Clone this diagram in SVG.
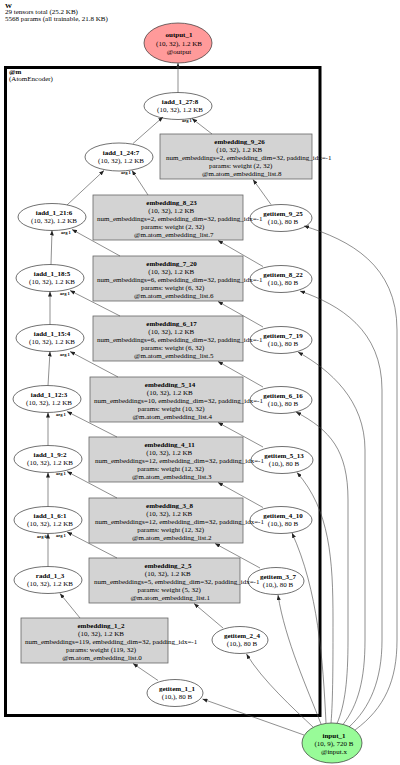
<svg xmlns="http://www.w3.org/2000/svg" width="400" height="765" viewBox="0 0 400 765">
<style>
text { font-family: "Liberation Serif", "Times New Roman", serif; font-size: 7px; fill: #000; }
.b { font-weight: bold; }
.m { text-anchor: middle; }
.box { fill: #d3d3d3; stroke: #666; stroke-width: 0.8; }
.ell { fill: #fff; stroke: #333; stroke-width: 0.7; }
.out { fill: #ff9a9a; stroke: #333; stroke-width: 0.7; }
.in { fill: #98fb98; stroke: #333; stroke-width: 0.7; }
.e { fill: none; stroke: #444; stroke-width: 0.6; marker-end: url(#ah); }
.lab { font-size: 4.5px; font-weight: bold; }
.cl { fill: #fff; stroke: #000; stroke-width: 3; }
</style>
<defs>
<marker id="ah" markerUnits="userSpaceOnUse" markerWidth="5" markerHeight="4" refX="5" refY="2" orient="auto">
<path d="M0,0 L5,2 L0,4 z" fill="#222"/>
</marker>
</defs>
<rect width="400" height="765" fill="#fff"/>
<g id="title">
<text x="5" y="7.5" class="b">W</text>
<text x="5" y="14">29 tensors total (25.2 KB)</text>
<text x="5" y="20.5">5568 params (all trainable, 21.8 KB)</text>
</g>
<g id="cluster_m">
<rect class="cl" x="5.5" y="67.5" width="314.5" height="648"/>
<text x="9" y="74" class="b">@m</text>
<text x="9" y="80.5">(AtomEncoder)</text>
</g>
<g id="output_1">
<ellipse class="out" cx="178" cy="43" rx="34" ry="20"/>
<text x="179" y="37" class="b m">output_1</text>
<text x="179" y="45.5" class="m">(10, 32), 1.2 KB</text>
<text x="179" y="54" class="m">@output</text>
</g>
<g id="iadd_1_27_8">
<ellipse class="ell" cx="178" cy="106" rx="34" ry="13.5"/>
<text x="180" y="104" class="b m">iadd_1_27:8</text>
<text x="180" y="112" class="m">(10, 32), 1.2 KB</text>
</g>
<g id="iadd_1_24_7">
<ellipse class="ell" cx="119" cy="157" rx="34" ry="14"/>
<text x="121" y="155" class="b m">iadd_1_24:7</text>
<text x="121" y="163" class="m">(10, 32), 1.2 KB</text>
</g>
<g id="iadd_1_21_6">
<ellipse class="ell" cx="52" cy="217" rx="34" ry="13.5"/>
<text x="54" y="215" class="b m">iadd_1_21:6</text>
<text x="54" y="223" class="m">(10, 32), 1.2 KB</text>
</g>
<g id="iadd_1_18_5">
<ellipse class="ell" cx="50" cy="278" rx="34" ry="13.5"/>
<text x="52" y="276" class="b m">iadd_1_18:5</text>
<text x="52" y="284" class="m">(10, 32), 1.2 KB</text>
</g>
<g id="iadd_1_15_4">
<ellipse class="ell" cx="50" cy="338" rx="34" ry="13.5"/>
<text x="52" y="336" class="b m">iadd_1_15:4</text>
<text x="52" y="344" class="m">(10, 32), 1.2 KB</text>
</g>
<g id="iadd_1_12_3">
<ellipse class="ell" cx="47" cy="399" rx="34" ry="13.5"/>
<text x="49" y="397" class="b m">iadd_1_12:3</text>
<text x="49" y="405" class="m">(10, 32), 1.2 KB</text>
</g>
<g id="iadd_1_9_2">
<ellipse class="ell" cx="48" cy="459" rx="34" ry="13.5"/>
<text x="50" y="457" class="b m">iadd_1_9:2</text>
<text x="50" y="465" class="m">(10, 32), 1.2 KB</text>
</g>
<g id="iadd_1_6_1">
<ellipse class="ell" cx="48" cy="520" rx="34" ry="13.5"/>
<text x="50" y="518" class="b m">iadd_1_6:1</text>
<text x="50" y="526" class="m">(10, 32), 1.2 KB</text>
</g>
<g id="radd_1_3">
<ellipse class="ell" cx="48" cy="580" rx="34" ry="13.5"/>
<text x="50" y="578" class="b m">radd_1_3</text>
<text x="50" y="586" class="m">(10, 32), 1.2 KB</text>
</g>
<g id="getitem_9_25">
<ellipse class="ell" cx="281" cy="218" rx="31" ry="13.5"/>
<text x="283" y="216" class="b m">getitem_9_25</text>
<text x="283" y="224" class="m">(10,), 80 B</text>
</g>
<g id="getitem_8_22">
<ellipse class="ell" cx="281" cy="279" rx="31" ry="13.5"/>
<text x="283" y="277" class="b m">getitem_8_22</text>
<text x="283" y="285" class="m">(10,), 80 B</text>
</g>
<g id="getitem_7_19">
<ellipse class="ell" cx="281" cy="340" rx="31" ry="13.5"/>
<text x="283" y="338" class="b m">getitem_7_19</text>
<text x="283" y="346" class="m">(10,), 80 B</text>
</g>
<g id="getitem_6_16">
<ellipse class="ell" cx="281" cy="400" rx="31" ry="13.5"/>
<text x="283" y="398" class="b m">getitem_6_16</text>
<text x="283" y="406" class="m">(10,), 80 B</text>
</g>
<g id="getitem_5_13">
<ellipse class="ell" cx="282" cy="460" rx="31" ry="13.5"/>
<text x="284" y="458" class="b m">getitem_5_13</text>
<text x="284" y="466" class="m">(10,), 80 B</text>
</g>
<g id="getitem_4_10">
<ellipse class="ell" cx="281" cy="520" rx="31" ry="13.5"/>
<text x="283" y="518" class="b m">getitem_4_10</text>
<text x="283" y="526" class="m">(10,), 80 B</text>
</g>
<g id="getitem_3_7">
<ellipse class="ell" cx="276" cy="581" rx="28" ry="13.5"/>
<text x="278" y="579" class="b m">getitem_3_7</text>
<text x="278" y="587" class="m">(10,), 80 B</text>
</g>
<g id="getitem_2_4">
<ellipse class="ell" cx="240" cy="640" rx="28" ry="13.5"/>
<text x="242" y="638" class="b m">getitem_2_4</text>
<text x="242" y="646" class="m">(10,), 80 B</text>
</g>
<g id="getitem_1_1">
<ellipse class="ell" cx="175" cy="693" rx="28" ry="13.5"/>
<text x="177" y="691" class="b m">getitem_1_1</text>
<text x="177" y="699" class="m">(10,), 80 B</text>
</g>
<g id="embedding_9_26">
<rect class="box" x="160" y="134" width="152" height="45"/>
<text x="239.6" y="143.5" class="b m">embedding_9_26</text>
<text x="239.3" y="151.5" class="m">(10, 32), 1.2 KB</text>
<text x="166" y="159.5">num_embeddings=2, embedding_dim=32, padding_idx=-1</text>
<text x="240.6" y="167.5" class="m">params: weight (2, 32)</text>
<text x="241.8" y="175.5" class="m">@m.atom_embedding_list.8</text>
</g>
<g id="embedding_8_23">
<rect class="box" x="93" y="195" width="150" height="45"/>
<text x="171.6" y="204.5" class="b m">embedding_8_23</text>
<text x="171.3" y="212.5" class="m">(10, 32), 1.2 KB</text>
<text x="97" y="220.5">num_embeddings=2, embedding_dim=32, padding_idx=-1</text>
<text x="172.6" y="228.5" class="m">params: weight (2, 32)</text>
<text x="173.8" y="236.5" class="m">@m.atom_embedding_list.7</text>
</g>
<g id="embedding_7_20">
<rect class="box" x="93" y="256" width="150" height="45"/>
<text x="171.6" y="265.5" class="b m">embedding_7_20</text>
<text x="171.3" y="273.5" class="m">(10, 32), 1.2 KB</text>
<text x="97" y="281.5">num_embeddings=6, embedding_dim=32, padding_idx=-1</text>
<text x="172.6" y="289.5" class="m">params: weight (6, 32)</text>
<text x="173.8" y="297.5" class="m">@m.atom_embedding_list.6</text>
</g>
<g id="embedding_6_17">
<rect class="box" x="93" y="316" width="150" height="45"/>
<text x="171.6" y="325.5" class="b m">embedding_6_17</text>
<text x="171.3" y="333.5" class="m">(10, 32), 1.2 KB</text>
<text x="97" y="341.5">num_embeddings=6, embedding_dim=32, padding_idx=-1</text>
<text x="172.6" y="349.5" class="m">params: weight (6, 32)</text>
<text x="173.8" y="357.5" class="m">@m.atom_embedding_list.5</text>
</g>
<g id="embedding_5_14">
<rect class="box" x="90" y="377" width="153" height="45"/>
<text x="170.1" y="386.5" class="b m">embedding_5_14</text>
<text x="169.8" y="394.5" class="m">(10, 32), 1.2 KB</text>
<text x="94" y="402.5">num_embeddings=10, embedding_dim=32, padding_idx=-1</text>
<text x="171.1" y="410.5" class="m">params: weight (10, 32)</text>
<text x="172.3" y="418.5" class="m">@m.atom_embedding_list.4</text>
</g>
<g id="embedding_4_11">
<rect class="box" x="89" y="437" width="154" height="45"/>
<text x="169.6" y="446.5" class="b m">embedding_4_11</text>
<text x="169.3" y="454.5" class="m">(10, 32), 1.2 KB</text>
<text x="95" y="462.5">num_embeddings=12, embedding_dim=32, padding_idx=-1</text>
<text x="170.6" y="470.5" class="m">params: weight (12, 32)</text>
<text x="171.8" y="478.5" class="m">@m.atom_embedding_list.3</text>
</g>
<g id="embedding_3_8">
<rect class="box" x="89" y="498" width="154" height="45"/>
<text x="169.6" y="507.5" class="b m">embedding_3_8</text>
<text x="169.3" y="515.5" class="m">(10, 32), 1.2 KB</text>
<text x="95" y="523.5">num_embeddings=12, embedding_dim=32, padding_idx=-1</text>
<text x="170.6" y="531.5" class="m">params: weight (12, 32)</text>
<text x="171.8" y="539.5" class="m">@m.atom_embedding_list.2</text>
</g>
<g id="embedding_2_5">
<rect class="box" x="89" y="558" width="151" height="45"/>
<text x="168.1" y="567.5" class="b m">embedding_2_5</text>
<text x="167.8" y="575.5" class="m">(10, 32), 1.2 KB</text>
<text x="94" y="583.5">num_embeddings=5, embedding_dim=32, padding_idx=-1</text>
<text x="169.1" y="591.5" class="m">params: weight (5, 32)</text>
<text x="170.3" y="599.5" class="m">@m.atom_embedding_list.1</text>
</g>
<g id="embedding_1_2">
<rect class="box" x="21" y="618" width="147" height="45"/>
<text x="101" y="627.5" class="b m">embedding_1_2</text>
<text x="101" y="635.5" class="m">(10, 32), 1.2 KB</text>
<text x="25" y="643.5">num_embeddings=119, embedding_dim=32, padding_idx=-1</text>
<text x="101" y="651.5" class="m">params: weight (119, 32)</text>
<text x="102" y="659.5" class="m">@m.atom_embedding_list.0</text>
</g>
<g id="input_1">
<ellipse class="in" cx="332" cy="743" rx="30" ry="20"/>
<text x="334" y="737.5" class="b m">input_1</text>
<text x="334" y="745.5" class="m">(10, 9), 720 B</text>
<text x="334" y="753.5" class="m">@input.x</text>
</g>
<g id="connectors">
<path class="e" d="M178,92.5 L178,63"/>
<path class="e" d="M133,143.5 L163,117"/>
<path class="e" d="M212,134 L192,118.5"/>
<path class="e" d="M67,205 L104,170.5"/>
<path class="e" d="M148,195 L132,170.5"/>
<path class="e" d="M51,264.5 L52,230.5"/>
<path class="e" d="M120,256 L72,229.5"/>
<path class="e" d="M50,324.5 L50,291.5"/>
<path class="e" d="M120,316 L70,290.5"/>
<path class="e" d="M48,385.5 L50,351.5"/>
<path class="e" d="M118,377 L70,351.5"/>
<path class="e" d="M48,445.5 L48,412.5"/>
<path class="e" d="M117,437 L67,411.5"/>
<path class="e" d="M48,506.5 L48,472.5"/>
<path class="e" d="M117,498 L67,471.5"/>
<path class="e" d="M48,566.5 L48,533.5"/>
<path class="e" d="M117,558 L67,532"/>
<path class="e" d="M80,618 L60,593.5"/>
<path class="e" d="M158,680.5 L133,663.5"/>
<path class="e" d="M223,628 L194,603.5"/>
<path class="e" d="M260,568 L215,543.5"/>
<path class="e" d="M263,507.5 L218,482.5"/>
<path class="e" d="M263,447 L218,422.5"/>
<path class="e" d="M263,387 L218,361.5"/>
<path class="e" d="M263,327 L218,301.5"/>
<path class="e" d="M263,266.5 L218,240.5"/>
<path class="e" d="M271,204.5 L253,179.5"/>
<path class="e" d="M304,735 L202.5,699"/>
<path class="e" d="M313,727 C295,710 262,680 246.5,654"/>
<path class="e" d="M321,724 C308,690 285,640 278,595"/>
<path class="e" d="M326,723 C323,660 318,590 292,533"/>
<path class="e" d="M331,723 C333,700 333,660 333,620 C333,560 330,510 297,472.5"/>
<path class="e" d="M337,723.5 C345,705 348,680 348,640 L348,500 C348,450 330,430 296,412"/>
<path class="e" d="M343,724.5 C358,705 365,680 365,640 L365,450 C365,400 330,370 298,352"/>
<path class="e" d="M349,727 C370,708 382,680 382,640 L382,390 C382,330 340,305 300,291"/>
<path class="e" d="M355,730 C385,708 397,680 397,640 L397,330 C397,265 350,240 304,226"/>
<text x="182" y="122" class="lab">arg 1</text>
<text x="121" y="174" class="lab">arg 1</text>
<text x="61" y="233.5" class="lab">arg 1</text>
<text x="60" y="295" class="lab">arg 1</text>
<text x="60" y="355.5" class="lab">arg 1</text>
<text x="56" y="415.5" class="lab">arg 1</text>
<text x="56" y="475" class="lab">arg 1</text>
<text x="37" y="537.5" class="lab">arg 0</text>
<text x="56" y="537" class="lab">arg 1</text>
</g>
</svg>
